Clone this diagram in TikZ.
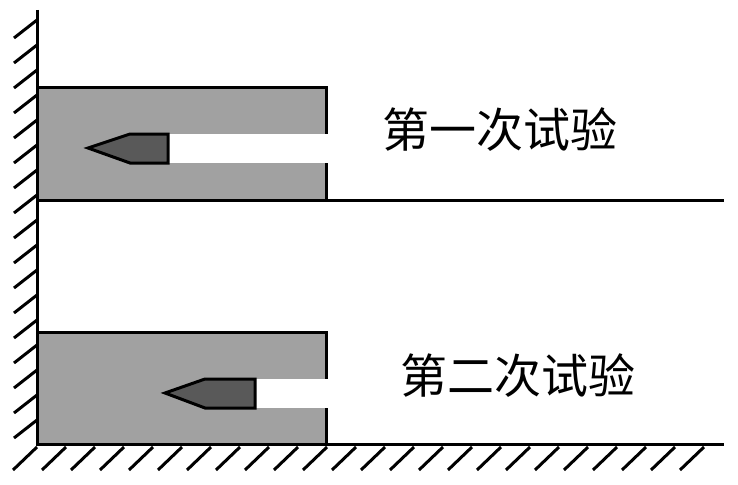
\documentclass[tikz,border=0pt]{standalone}
\usepackage{fontspec}
\newfontfamily\cjk{Noto Sans CJK SC}
\usetikzlibrary{positioning}

\begin{document}
\begin{tikzpicture}
    [
        x=1pt, y=-1pt, line width=3pt,
        block/.style={fill=black!37, draw=none},
        bullet/.style={fill=black!65, draw=black, line join=miter},
        label_text/.style={font=\cjk\fontsize{47}{47}\selectfont, inner sep=0pt},
    ]
        \useasboundingbox (0,0) rectangle (738,484);
        % blocks
        \fill[block] (37,88) rectangle (326,200);
        \fill[white] (168,134) rectangle (330,163);
        \fill[block] (37,332) rectangle (326,444);
        \fill[white] (255,379) rectangle (330,408);
        \draw (37,88) -- (326,88) -- (326,134);
        \draw (326,163) -- (326,200);
        \draw (37,332) -- (326,332) -- (326,379);
        \draw (326,408) -- (326,444);
        % bullets
        \draw[bullet] (88,148) -- (130,134) -- (168,134) -- (168,163) -- (130,163) -- cycle;
        \draw[bullet] (165,393) -- (205,379) -- (255,379) -- (255,408) -- (205,408) -- cycle;
        % wall and floor
        \coordinate (top) at (37,10);
        \coordinate (corner) at (37,444);
        \draw (top) -- (corner) -- (724,444);
        \draw (37,200) -- (724,200);
        \foreach \y in {20,45,...,440}
            \draw (14,\y+18) -- (37,\y);
        \foreach \x in {13,42,...,700}
            \draw (\x,470) -- (\x+24,447);
        % labels
        \node[label_text] (first) at (500,130) {第一次试验};
        \node[label_text] (second) at (518,376) {第二次试验};
    \end{tikzpicture}
\end{document}
